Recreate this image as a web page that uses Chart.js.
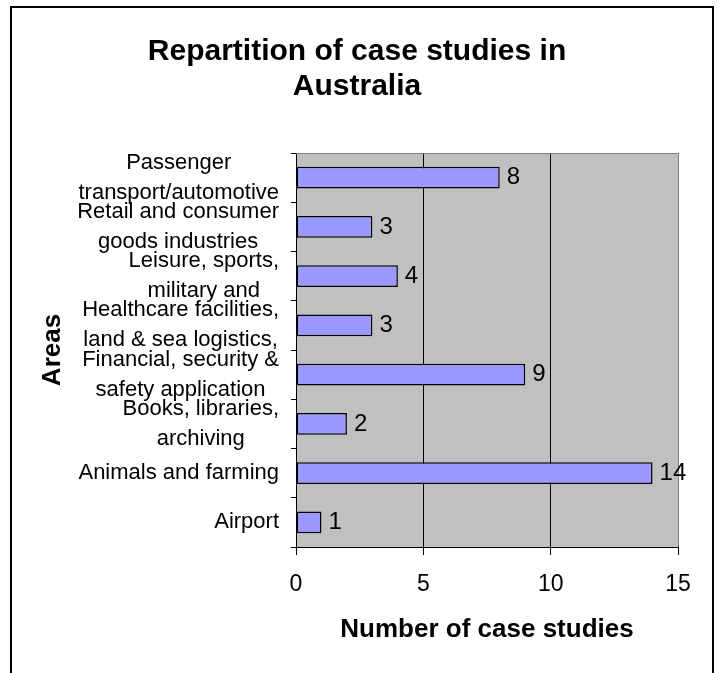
<!DOCTYPE html>
<html>
<head>
<meta charset="utf-8">
<script src="https://cdn.jsdelivr.net/npm/chart.js@4.4.1/dist/chart.umd.min.js"></script>
<style>
  html, body { margin: 0; padding: 0; background: #fff; }
</style>
</head>
<body>
<canvas id="chart" width="719" height="673"></canvas>
<script>
// ---- data (top to bottom) ----
const areas = [
  ["Passenger", "transport/automotive"],
  ["Retail and consumer", "goods industries"],
  ["Leisure, sports,", "military and"],
  ["Healthcare facilities,", "land & sea logistics,"],
  ["Financial, security &", "safety application"],
  ["Books, libraries,", "archiving"],
  ["Animals and farming"],
  ["Airport"]
];
const caseCounts = [8, 3, 4, 3, 9, 2, 14, 1];
const xTicks = [0, 5, 10, 15];
const titleLines = ["Repartition of case studies in", "Australia"];

const FONT = "'Liberation Sans', Arial, sans-serif";
Chart.defaults.font.family = FONT;
Chart.defaults.color = "#000";

// grey plot area, top border, outer frame
const frame = {
  id: "frame",
  beforeDraw(chart) {
    const { ctx, chartArea: a } = chart;
    ctx.save();
    ctx.fillStyle = "#c0c0c0";
    ctx.fillRect(a.left, a.top, a.right - a.left, a.bottom - a.top);
    ctx.restore();
  },
  afterDraw(chart) {
    const { ctx, chartArea: a } = chart;
    ctx.save();
    ctx.strokeStyle = "#808080";
    ctx.lineWidth = 1;
    ctx.beginPath();
    ctx.moveTo(a.left, a.top + 0.5);
    ctx.lineTo(a.right, a.top + 0.5);
    ctx.stroke();
    ctx.strokeStyle = "#000";
    ctx.lineWidth = 2;
    ctx.beginPath();
    ctx.moveTo(11, 700);
    ctx.lineTo(11, 7);
    ctx.lineTo(713, 7);
    ctx.lineTo(713, 700);
    ctx.stroke();
    ctx.restore();
  }
};

// category labels: block right-aligned, lines centred inside block (Excel style)
const areaLabels = {
  id: "areaLabels",
  afterDraw(chart) {
    const { ctx } = chart;
    const y = chart.scales.y;
    ctx.save();
    ctx.font = "22px " + FONT;
    ctx.fillStyle = "#000";
    ctx.textAlign = "center";
    ctx.textBaseline = "middle";
    chart.data.labels.forEach((lines, i) => {
      const w = Math.max(...lines.map(t => ctx.measureText(t).width));
      const cx = y.right - 17 - w / 2;
      const cy = y.getPixelForTick(i);
      lines.forEach((t, j) => ctx.fillText(t, cx, cy + (j - (lines.length - 1) / 2) * 30));
    });
    ctx.restore();
  }
};

// value labels right of bars
const valueLabels = {
  id: "valueLabels",
  afterDatasetsDraw(chart) {
    const { ctx } = chart;
    const meta = chart.getDatasetMeta(0);
    ctx.save();
    ctx.font = "24px " + FONT;
    ctx.fillStyle = "#000";
    ctx.textAlign = "left";
    ctx.textBaseline = "middle";
    meta.data.forEach((bar, i) => ctx.fillText(String(caseCounts[i]), bar.x + 7, bar.y));
    ctx.restore();
  }
};

new Chart(document.getElementById("chart"), {
  type: "bar",
  data: {
    labels: areas,
    datasets: [{
      data: caseCounts,
      backgroundColor: "#9999ff",
      borderColor: "#000",
      borderWidth: 1.5,
      borderSkipped: false,
      categoryPercentage: 1,
      barPercentage: 0.44
    }]
  },
  options: {
    indexAxis: "y",
    responsive: false,
    animation: false,
    layout: { padding: { top: 0, right: 41, bottom: 0, left: 36 } },
    plugins: {
      legend: { display: false },
      tooltip: { enabled: false },
      title: {
        display: true,
        text: titleLines,
        color: "#000",
        font: { size: 30, weight: "bold", lineHeight: 35 / 30 },
        padding: { top: 34, bottom: 49 }
      }
    },
    scales: {
      x: {
        min: 0,
        max: 15,
        afterBuildTicks: s => { s.ticks = xTicks.map(v => ({ value: v })); },
        afterFit: s => { s.height = 126; },
        grid: {
          color: c => (c.tick && c.tick.value === 15 ? "#808080" : "#000"),
          tickColor: "#000",
          tickLength: 8,
          lineWidth: 1
        },
        border: { color: "#000", width: 1 },
        ticks: { font: { size: 23 }, padding: 16, color: "#000" },
        title: {
          display: true,
          text: "Number of case studies",
          color: "#000",
          font: { size: 26, weight: "bold" },
          padding: { top: 0, bottom: 28 }
        }
      },
      y: {
        afterFit: s => { s.width = 260; },
        grid: {
          drawOnChartArea: false,
          drawTicks: true,
          tickLength: 5,
          color: "#000",
          offset: true
        },
        border: { color: "#000", width: 1 },
        ticks: { display: false },
        title: {
          display: true,
          text: "Areas",
          color: "#000",
          font: { size: 26, weight: "bold" },
          padding: { top: 1, bottom: 0 }
        }
      }
    }
  },
  plugins: [frame, areaLabels, valueLabels]
});
</script>
</body>
</html>
